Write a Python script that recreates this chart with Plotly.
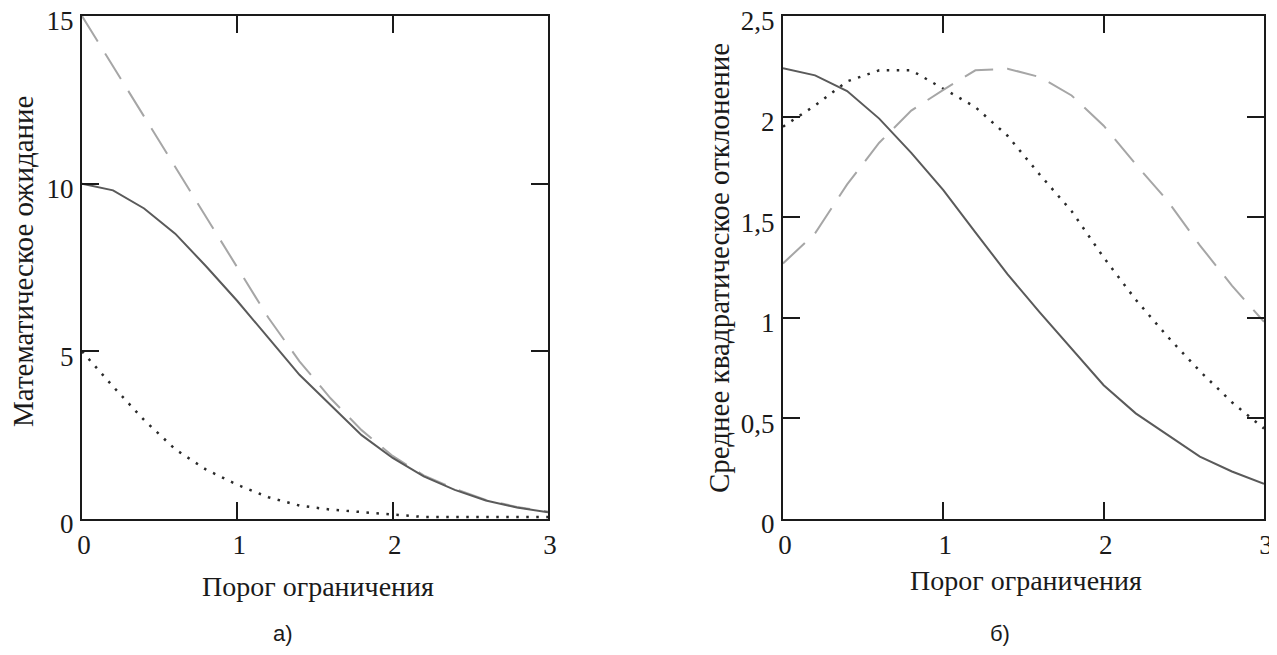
import plotly.graph_objects as go

# ---- data ----
threshold = [0.0, 0.2, 0.4, 0.6, 0.8, 1.0, 1.2, 1.4, 1.6, 1.8, 2.0, 2.2, 2.4, 2.6, 2.8, 3.0]

# (a) mathematical expectation
mean_solid = [10.0, 9.8, 9.26, 8.51, 7.53, 6.5, 5.4, 4.3, 3.4, 2.5, 1.82, 1.27, 0.87, 0.55, 0.34, 0.2]
mean_dashed = [15.0, 13.5, 12.0, 10.5, 9.0, 7.5, 6.0, 4.7, 3.6, 2.65, 1.88, 1.3, 0.9, 0.57, 0.36, 0.22]
mean_dotted = [5.0, 3.95, 2.95, 2.08, 1.47, 1.02, 0.65, 0.4, 0.28, 0.2, 0.12, 0.06, 0.06, 0.06, 0.06, 0.06]

# (б) standard deviation
std_solid = [2.24, 2.205, 2.127, 1.99, 1.82, 1.635, 1.425, 1.217, 1.028, 0.847, 0.665, 0.525, 0.417, 0.31, 0.236, 0.175]
std_dashed = [1.27, 1.42, 1.663, 1.87, 2.03, 2.133, 2.23, 2.238, 2.197, 2.105, 1.955, 1.763, 1.58, 1.36, 1.16, 0.98]
std_dotted = [1.95, 2.055, 2.175, 2.23, 2.23, 2.14, 2.047, 1.905, 1.713, 1.53, 1.30, 1.09, 0.905, 0.735, 0.58, 0.45]

x_ticks = [0, 1, 2, 3]
x_ticktext = ["0", "1", "2", "3"]
ya_ticks = [0, 5, 10, 15]
ya_ticktext = ["0", "5", "10", "15"]
yb_ticks = [0, 0.5, 1, 1.5, 2, 2.5]
yb_ticktext = ["0", "0,5", "1", "1,5", "2", "2,5"]

x_title = "Порог ограничения"
ya_title = "Математическое ожидание"
yb_title = "Среднее квадратическое отклонение"
label_a = "а)"
label_b = "б)"

# ---- styles ----
OFF = 8  # page body margin
W, H = 1277 - OFF, 655 - 2 * OFF
SERIF = "Liberation Serif"
SANS = "Liberation Sans"
c_solid = "#5a5a5a"
c_dashed = "#a6a6a6"
c_dotted = "#2a2a2a"
dash_long = "30px,14px"
dot_pat = "2.5px,7.5px"


def px(X):
    return (X - OFF) / W


def py(Y):
    return 1 - (Y - OFF) / H


fig = go.Figure()


def add_set(xa, ya, solid, dashed, dotted):
    fig.add_trace(go.Scatter(x=threshold, y=dotted, mode="lines", xaxis=xa, yaxis=ya,
                             line=dict(color=c_dotted, width=2.5, dash=dot_pat), showlegend=False))
    fig.add_trace(go.Scatter(x=threshold, y=dashed, mode="lines", xaxis=xa, yaxis=ya,
                             line=dict(color=c_dashed, width=2, dash=dash_long), showlegend=False))
    fig.add_trace(go.Scatter(x=threshold, y=solid, mode="lines", xaxis=xa, yaxis=ya,
                             line=dict(color=c_solid, width=2), showlegend=False))


add_set("x", "y", mean_solid, mean_dashed, mean_dotted)
add_set("x2", "y2", std_solid, std_dashed, std_dotted)

axis_common = dict(showgrid=False, zeroline=False, showline=True, linecolor="#1a1a1a",
                   linewidth=2, mirror="ticks", ticks="inside", ticklen=17, tickwidth=2,
                   tickcolor="#1a1a1a", automargin=False, ticklabeloverflow="allow",
                   tickfont=dict(family=SERIF, size=27, color="#1a1a1a"))
x_extra = dict(ticklabelstandoff=1, ticklabelshift=2)
y_extra = dict(ticklabelstandoff=1, ticklabelshift=5)

ydom = [py(519), py(16)]
fig.update_layout(
    template="none",
    width=W, height=H,
    margin=dict(l=0, r=0, t=0, b=0, pad=0, autoexpand=False),
    paper_bgcolor="white", plot_bgcolor="white",
    showlegend=False,
    xaxis=dict(domain=[px(82), px(548)], range=[0, 3], tickvals=x_ticks, ticktext=x_ticktext,
               anchor="y", **x_extra, **axis_common),
    yaxis=dict(domain=ydom, range=[0, 15], tickvals=ya_ticks, ticktext=ya_ticktext,
               anchor="x", **y_extra, **axis_common),
    xaxis2=dict(domain=[px(783), px(1264)], range=[0, 3], tickvals=x_ticks, ticktext=x_ticktext,
                anchor="y2", **x_extra, **axis_common),
    yaxis2=dict(domain=ydom, range=[0, 2.5], tickvals=yb_ticks, ticktext=yb_ticktext,
                anchor="x2", **y_extra, **axis_common),
)


def ann(text, x, y, size, family, angle=0):
    fig.add_annotation(text=text, x=px(x), y=py(y), xref="paper", yref="paper",
                       showarrow=False, textangle=angle, xanchor="center", yanchor="middle",
                       font=dict(family=family, size=size, color="#1a1a1a"))


ann(x_title, 318, 586, 28, SERIF)
ann(x_title, 1026, 580, 28, SERIF)
ann(ya_title, 23, 262, 29, SERIF, -90)
ann(yb_title, 719, 268, 29, SERIF, -90)
ann(label_a, 283, 633, 22, SANS)
ann(label_b, 1000, 633, 22, SANS)

fig.write_html("out.html")
